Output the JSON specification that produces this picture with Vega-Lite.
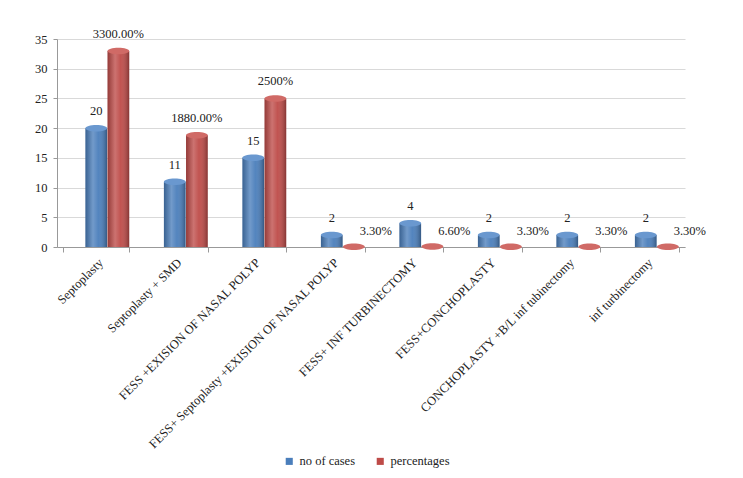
{
  "$schema": "https://vega.github.io/schema/vega-lite/v6.json",
  "autosize": {"type": "none"},
  "width": 628,
  "height": 208,
  "padding": {"left": 57, "top": 39, "right": 58, "bottom": 231},
  "background": "white",
  "config": {
    "font": "serif",
    "view": {"stroke": null},
    "axis": {"labelFont": "serif", "labelColor": "#222", "domainColor": "#999", "tickColor": "#999", "gridColor": "#d9d9d9"},
    "legend": {"labelFont": "serif"},
    "text": {"font": "serif"}
  },
  "data": {
    "values": [
      {"category": "Septoplasty", "series": "no of cases", "value": 20, "label": "20"},
      {"category": "Septoplasty", "series": "percentages", "value": 33, "label": "3300.00%"},
      {"category": "Septoplasty + SMD", "series": "no of cases", "value": 11, "label": "11"},
      {"category": "Septoplasty + SMD", "series": "percentages", "value": 18.8, "label": "1880.00%"},
      {"category": "FESS +EXISION OF NASAL POLYP", "series": "no of cases", "value": 15, "label": "15"},
      {"category": "FESS +EXISION OF NASAL POLYP", "series": "percentages", "value": 25, "label": "2500%"},
      {"category": "FESS+ Septoplasty +EXISION OF NASAL POLYP", "series": "no of cases", "value": 2, "label": "2"},
      {"category": "FESS+ Septoplasty +EXISION OF NASAL POLYP", "series": "percentages", "value": 0.033, "label": "3.30%"},
      {"category": "FESS+ INF TURBINECTOMY", "series": "no of cases", "value": 4, "label": "4"},
      {"category": "FESS+ INF TURBINECTOMY", "series": "percentages", "value": 0.066, "label": "6.60%"},
      {"category": "FESS+CONCHOPLASTY", "series": "no of cases", "value": 2, "label": "2"},
      {"category": "FESS+CONCHOPLASTY", "series": "percentages", "value": 0.033, "label": "3.30%"},
      {"category": "CONCHOPLASTY +B/L inf tubinectomy", "series": "no of cases", "value": 2, "label": "2"},
      {"category": "CONCHOPLASTY +B/L inf tubinectomy", "series": "percentages", "value": 0.033, "label": "3.30%"},
      {"category": "inf turbinectomy", "series": "no of cases", "value": 2, "label": "2"},
      {"category": "inf turbinectomy", "series": "percentages", "value": 0.033, "label": "3.30%"}
    ]
  },
  "encoding": {
    "x": {
      "field": "category", "type": "nominal", "sort": null, "title": null,
      "scale": {"paddingInner": 0.16, "paddingOuter": 0.08},
      "axis": {"labelAngle": -45, "labelFontSize": 12.5, "labelLimit": 0, "tickBand": "extent", "tickSize": 5, "labelPadding": 4, "labelFont": "serif"}
    },
    "xOffset": {"field": "series", "type": "nominal", "scale": {"domain": ["", "no of cases", "percentages"], "paddingInner": 0.02, "paddingOuter": 0}},
    "y": {
      "field": "value", "type": "quantitative", "title": null,
      "scale": {"domain": [0, 35], "nice": false},
      "axis": {"values": [0, 5, 10, 15, 20, 25, 30, 35], "labelFontSize": 12.5, "tickSize": 4, "labelPadding": 6, "labelFont": "serif"}
    }
  },
  "layer": [
    {
      "mark": {"type": "bar"},
      "encoding": {
        "color": {
          "field": "series", "type": "nominal", "title": null,
          "scale": {"domain": ["no of cases", "percentages"], "range": ["#4A7EBB", "#BE4B48"]},
          "legend": {"orient": "none", "legendX": 226, "legendY": 416, "direction": "horizontal", "symbolType": "square", "symbolSize": 50, "labelFont": "serif", "labelFontSize": 12.5, "labelColor": "#222", "columnPadding": 18, "symbolStrokeWidth": 0}
        }
      }
    },
    {
      "mark": {
        "type": "bar",
        "fill": {
          "gradient": "linear", "x1": 0, "x2": 1, "y1": 0, "y2": 0,
          "stops": [
            {"offset": 0, "color": "rgba(0,0,0,0.22)"},
            {"offset": 0.35, "color": "rgba(255,255,255,0.22)"},
            {"offset": 0.6, "color": "rgba(255,255,255,0.05)"},
            {"offset": 1, "color": "rgba(0,0,0,0.3)"}
          ]
        }
      }
    },
    {
      "mark": {"type": "point", "filled": true, "opacity": 1, "shape": "M-1,0 A1,0.3 0 1,0 1,0 A1,0.3 0 1,0 -1,0 Z", "size": 470},
      "encoding": {
        "fill": {
          "field": "series", "type": "nominal", "legend": null,
          "scale": {"domain": ["no of cases", "percentages"], "range": ["#6A98CF", "#D06A66"]}
        }
      }
    },
    {
      "transform": [{"filter": "datum.value >= 1"}],
      "mark": {"type": "text", "dy": -17, "fontSize": 12.5, "font": "serif", "color": "#222"},
      "encoding": {"text": {"field": "label"}}
    },
    {
      "transform": [{"filter": "datum.value < 1"}],
      "mark": {"type": "text", "dy": -16, "dx": 22, "fontSize": 12.5, "font": "serif", "color": "#222"},
      "encoding": {"text": {"field": "label"}}
    }
  ]
}
